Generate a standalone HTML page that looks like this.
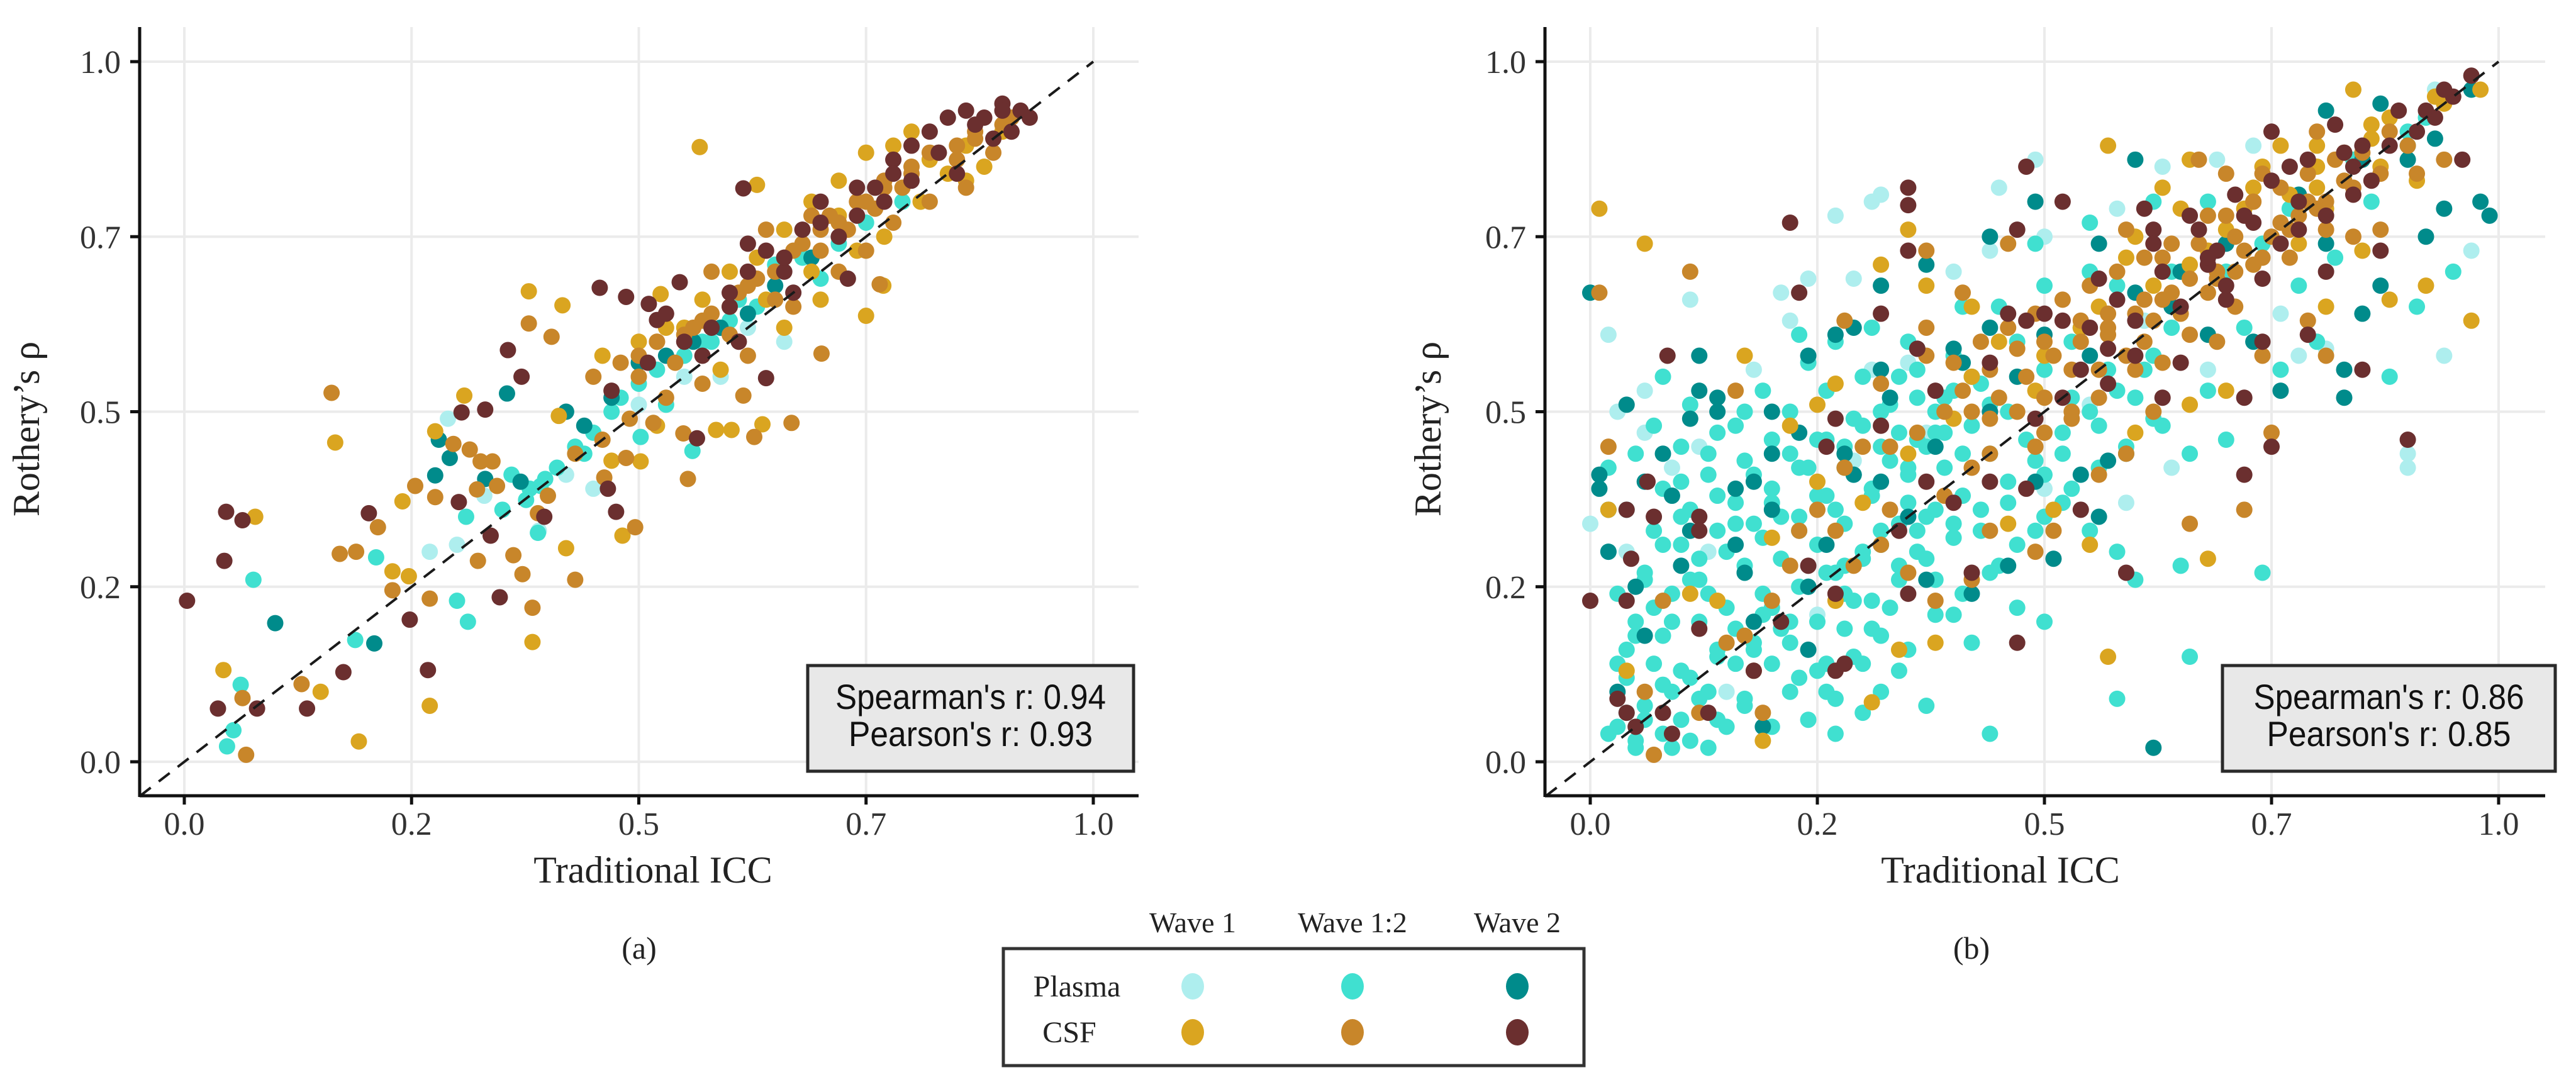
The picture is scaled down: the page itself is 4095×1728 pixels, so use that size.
<!DOCTYPE html>
<html><head><meta charset="utf-8"><style>
html,body{margin:0;padding:0;background:#fff;}
svg{display:block;}
</style></head><body>
<svg id="fig" xmlns="http://www.w3.org/2000/svg" width="4095" height="1728" viewBox="0 0 4095 1728">
<rect x="0" y="0" width="4095" height="1728" fill="#fff"/>
<g id="panelA"></g>
<g id="panelB"></g>
<text x="1016" y="1524" font-family="Liberation Serif, serif" font-size="50" text-anchor="middle" fill="#222">(a)</text>
<text x="3134" y="1524" font-family="Liberation Serif, serif" font-size="50" text-anchor="middle" fill="#222">(b)</text>
<g font-family="Liberation Serif, serif" fill="#222">
 <text x="1896" y="1482" font-size="46" text-anchor="middle">Wave 1</text>
 <text x="2150" y="1482" font-size="46" text-anchor="middle">Wave 1:2</text>
 <text x="2412" y="1482" font-size="46" text-anchor="middle">Wave 2</text>
 <rect x="1595" y="1508" width="923" height="186" fill="#fff" stroke="#333" stroke-width="5"/>
 <text x="1712" y="1584" font-size="48" text-anchor="middle">Plasma</text>
 <text x="1700" y="1657" font-size="48" text-anchor="middle">CSF</text>
 <ellipse cx="1896" cy="1568" rx="18" ry="21" fill="#aeeeee"/>
 <ellipse cx="2150" cy="1568" rx="18" ry="21" fill="#40e0d0"/>
 <ellipse cx="2412" cy="1568" rx="18" ry="21" fill="#008b8b"/>
 <ellipse cx="1896" cy="1641" rx="18" ry="21" fill="#daa520"/>
 <ellipse cx="2150" cy="1641" rx="18" ry="21" fill="#c8862a"/>
 <ellipse cx="2412" cy="1641" rx="18" ry="21" fill="#6b2f2f"/>
</g>
</svg>
<script>
const tickValues = [0, 0.25, 0.5, 0.75, 1.0];
const tickLabels = ["0.0", "0.2", "0.5", "0.7", "1.0"];
const statsA = ["Spearman's r: 0.94", "Pearson's r: 0.93"];
const statsB = ["Spearman's r: 0.86", "Pearson's r: 0.85"];
const seriesNames = ["plasma-wave1","plasma-wave12","plasma-wave2","csf-wave1","csf-wave12","csf-wave2"];
const seriesColors = ["#aeeeee","#40e0d0","#008b8b","#daa520","#c8862a","#6b2f2f"];

// ---- panel (a) ----
const aPw1X=[0.27,0.29,0.3,0.45,0.59,0.39,0.42,0.5,0.66,0.62,0.55,0.33];
const aPw1Y=[0.3,0.49,0.31,0.39,0.55,0.33,0.41,0.51,0.6,0.62,0.55,0.38];
const aPw12X=[0.076,0.062,0.054,0.047,0.188,0.211,0.3,0.312,0.389,0.376,0.392,0.397,0.502,0.559,0.47,0.45,0.48,0.52,0.55,0.58,0.6,0.63,0.65,0.68,0.7,0.72,0.35,0.36,0.41,0.43,0.5,0.53,0.57,0.61,0.75,0.79,0.38,0.31,0.44];
const aPw12Y=[0.26,0.11,0.045,0.022,0.174,0.292,0.23,0.2,0.327,0.374,0.394,0.404,0.464,0.444,0.5,0.47,0.52,0.56,0.58,0.6,0.63,0.65,0.71,0.72,0.69,0.74,0.36,0.41,0.42,0.45,0.54,0.51,0.6,0.66,0.77,0.8,0.39,0.35,0.44];
const aPw2X=[0.1,0.209,0.292,0.276,0.331,0.355,0.28,0.47,0.42,0.5,0.56,0.62,0.65,0.69,0.37,0.44,0.53,0.59];
const aPw2Y=[0.198,0.169,0.434,0.409,0.404,0.526,0.46,0.52,0.5,0.57,0.6,0.64,0.68,0.72,0.4,0.48,0.58,0.62];
const aCw1X=[0.078,0.043,0.192,0.166,0.229,0.247,0.24,0.276,0.308,0.379,0.416,0.524,0.567,0.63,0.383,0.42,0.412,0.482,0.502,0.585,0.602,0.636,0.75,0.769,0.27,0.15,0.46,0.5,0.53,0.57,0.6,0.63,0.66,0.69,0.72,0.75,0.78,0.8,0.82,0.84,0.86,0.88,0.72,0.7,0.74,0.77,0.81,0.86,0.9,0.59,0.64,0.55,0.47,0.52,0.66,0.69];
const aCw1Y=[0.35,0.131,0.029,0.456,0.272,0.265,0.372,0.472,0.523,0.672,0.652,0.668,0.878,0.824,0.171,0.305,0.494,0.323,0.429,0.474,0.474,0.482,0.637,0.68,0.08,0.1,0.58,0.6,0.62,0.66,0.7,0.72,0.76,0.8,0.83,0.87,0.88,0.9,0.86,0.84,0.83,0.85,0.78,0.66,0.73,0.75,0.8,0.88,0.9,0.56,0.66,0.62,0.43,0.48,0.62,0.7];
const aCw12X=[0.064,0.068,0.129,0.162,0.171,0.189,0.213,0.229,0.27,0.254,0.276,0.296,0.314,0.326,0.339,0.322,0.344,0.379,0.404,0.323,0.362,0.372,0.383,0.389,0.43,0.496,0.462,0.486,0.516,0.554,0.549,0.627,0.668,0.615,0.701,0.765,0.45,0.48,0.5,0.52,0.54,0.56,0.58,0.6,0.61,0.63,0.65,0.66,0.68,0.7,0.71,0.73,0.74,0.76,0.77,0.79,0.8,0.82,0.83,0.85,0.86,0.87,0.89,0.62,0.67,0.72,0.75,0.78,0.57,0.53,0.49,0.46,0.43,0.4,0.58,0.64,0.69];
const aCw12Y=[0.091,0.01,0.111,0.527,0.297,0.3,0.335,0.245,0.233,0.394,0.378,0.454,0.446,0.429,0.429,0.389,0.394,0.626,0.607,0.287,0.295,0.268,0.22,0.355,0.26,0.335,0.406,0.434,0.484,0.404,0.469,0.464,0.484,0.523,0.583,0.682,0.55,0.57,0.58,0.6,0.57,0.62,0.64,0.61,0.67,0.69,0.66,0.72,0.74,0.73,0.78,0.76,0.8,0.79,0.83,0.82,0.85,0.8,0.87,0.86,0.82,0.89,0.87,0.58,0.65,0.7,0.73,0.77,0.54,0.52,0.49,0.46,0.44,0.38,0.7,0.76,0.78];
const aCw12X2=[0.5,0.55,0.6,0.65,0.7,0.75,0.8,0.85,0.9,0.52,0.57,0.62,0.67,0.72,0.77,0.82,0.87,0.91];
const aCw12Y2=[0.55,0.61,0.65,0.7,0.76,0.8,0.84,0.88,0.91,0.6,0.63,0.68,0.73,0.77,0.82,0.87,0.9,0.92];
const aCw2X=[0.003,0.046,0.064,0.044,0.037,0.08,0.135,0.175,0.203,0.248,0.268,0.302,0.305,0.331,0.356,0.371,0.457,0.486,0.511,0.52,0.545,0.615,0.347,0.337,0.396,0.466,0.475,0.564,0.64,0.47,0.51,0.55,0.58,0.6,0.62,0.64,0.66,0.68,0.7,0.72,0.74,0.76,0.78,0.8,0.82,0.84,0.86,0.88,0.9,0.91,0.92,0.89,0.85,0.8,0.77,0.73,0.61,0.57,0.53,0.62,0.67];
const aCw2Y=[0.23,0.357,0.345,0.287,0.076,0.076,0.076,0.128,0.355,0.203,0.131,0.371,0.499,0.503,0.588,0.55,0.677,0.664,0.654,0.631,0.685,0.819,0.235,0.323,0.35,0.39,0.357,0.462,0.548,0.53,0.57,0.6,0.62,0.65,0.7,0.73,0.7,0.76,0.8,0.75,0.78,0.82,0.86,0.88,0.9,0.92,0.93,0.92,0.94,0.9,0.93,0.89,0.84,0.83,0.8,0.69,0.6,0.58,0.64,0.74,0.67];
const aCw2X2=[0.6,0.66,0.7,0.74,0.78,0.83,0.87,0.9,0.93];
const aCw2Y2=[0.67,0.72,0.77,0.82,0.84,0.87,0.91,0.93,0.92];

// ---- panel (b) ----
const bPw1X=[0.49,0.45,0.32,0.31,0.27,0.29,0.24,0.21,0.11,0.02,0.22,0.5,0.58,0.63,0.69,0.93,0.97,0.94,0.9,0.9,0.81,0.78,0.76,0.68,0.64,0.59,0.5,0.06,0.03,0.06,0.0,0.15,0.09,0.12,0.18,0.25,0.31,0.35,0.4,0.44,0.55,0.61,0.73,0.04,0.13,0.29,0.37];
const bPw1Y=[0.86,0.82,0.81,0.8,0.78,0.69,0.69,0.67,0.66,0.61,0.63,0.75,0.79,0.85,0.86,0.96,0.73,0.58,0.42,0.44,0.59,0.58,0.64,0.56,0.42,0.37,0.39,0.53,0.5,0.47,0.34,0.1,0.42,0.45,0.56,0.21,0.56,0.57,0.7,0.73,0.51,0.63,0.88,0.3,0.3,0.43,0.47];
const bPw12X=[0.03,0.05,0.06,0.04,0.07,0.09,0.1,0.11,0.08,0.05,0.03,0.06,0.09,0.12,0.14,0.13,0.15,0.17,0.16,0.18,0.15,0.12,0.1,0.07,0.04,0.02,0.05,0.08,0.11,0.14,0.17,0.19,0.21,0.2,0.22,0.24,0.27,0.26,0.25,0.23,0.21,0.18,0.16,0.13,0.1,0.07,0.14,0.17,0.2,0.23,0.25,0.27,0.29,0.31,0.3,0.32,0.34,0.33,0.3,0.28,0.26,0.23,0.2,0.17,0.22,0.25,0.28,0.31,0.34,0.36,0.38,0.4,0.42,0.37,0.35,0.32,0.29,0.26,0.3,0.33,0.36,0.39,0.41,0.43,0.45,0.47,0.5,0.44,0.42,0.39,0.36,0.4,0.43,0.46,0.48,0.5,0.52,0.55,0.58,0.6,0.65,0.56,0.53,0.5,0.47,0.45,0.5,0.53,0.57,0.6,0.63,0.66,0.7,0.68,0.62,0.58,0.55,0.64,0.72,0.76,0.8,0.78,0.74,0.82,0.86,0.9,0.95,0.91,0.88,0.74,0.58,0.66,0.3,0.27,0.44,0.37,0.13,0.09,0.35,0.31,0.27,0.24,0.41,0.49,0.55,0.62,0.68,0.04,0.02,0.19,0.23,0.11,0.08,0.34,0.28,0.32,0.35,0.38,0.46,0.49,0.52,0.64,0.7,0.77,0.84,0.92];
const bPw12Y=[0.05,0.03,0.08,0.12,0.14,0.1,0.06,0.12,0.18,0.2,0.24,0.27,0.24,0.2,0.16,0.1,0.05,0.09,0.14,0.17,0.22,0.26,0.31,0.33,0.36,0.42,0.44,0.39,0.36,0.33,0.28,0.24,0.19,0.14,0.1,0.06,0.09,0.14,0.2,0.25,0.29,0.34,0.37,0.41,0.45,0.48,0.47,0.43,0.39,0.35,0.31,0.27,0.23,0.19,0.14,0.1,0.13,0.22,0.3,0.34,0.38,0.42,0.46,0.5,0.5,0.46,0.42,0.38,0.34,0.3,0.26,0.21,0.17,0.35,0.41,0.45,0.49,0.53,0.55,0.51,0.46,0.42,0.38,0.33,0.28,0.22,0.2,0.44,0.48,0.52,0.56,0.58,0.54,0.5,0.46,0.41,0.37,0.33,0.3,0.26,0.28,0.48,0.52,0.56,0.6,0.65,0.68,0.6,0.56,0.52,0.48,0.44,0.46,0.53,0.58,0.68,0.7,0.7,0.62,0.56,0.6,0.68,0.74,0.72,0.8,0.9,0.7,0.65,0.55,0.27,0.09,0.15,0.07,0.04,0.04,0.08,0.02,0.02,0.6,0.62,0.6,0.57,0.65,0.74,0.77,0.8,0.8,0.16,0.3,0.53,0.61,0.51,0.55,0.55,0.28,0.33,0.37,0.47,0.37,0.33,0.44,0.62,0.7,0.79,0.86,0.92];
const bPw12X2=[0.02,0.04,0.06,0.08,0.1,0.12,0.14,0.16,0.18,0.2,0.22,0.24,0.26,0.28,0.3,0.32,0.34,0.36,0.38,0.4,0.03,0.05,0.07,0.09,0.11,0.13,0.15,0.17,0.19,0.21,0.23,0.25,0.27,0.29,0.31,0.33,0.35,0.37,0.39,0.41,0.06,0.08,0.1,0.12,0.14,0.16,0.18,0.2,0.22,0.24,0.26,0.28,0.3,0.32,0.34,0.36,0.38,0.4,0.42,0.44,0.1,0.13,0.16,0.19,0.22,0.25,0.28,0.31,0.34,0.37,0.4,0.43,0.46,0.49,0.52,0.55,0.58,0.61,0.05,0.08,0.11,0.14,0.17,0.2,0.23,0.26,0.29,0.32,0.35,0.38,0.41,0.44,0.47,0.5,0.53,0.56,0.59,0.62];
const bPw12Y2=[0.04,0.07,0.06,0.11,0.13,0.09,0.15,0.19,0.16,0.22,0.2,0.25,0.27,0.24,0.29,0.31,0.28,0.33,0.36,0.34,0.14,0.18,0.22,0.2,0.26,0.24,0.3,0.27,0.32,0.35,0.33,0.38,0.36,0.41,0.39,0.43,0.42,0.45,0.47,0.44,0.26,0.31,0.35,0.29,0.38,0.34,0.41,0.37,0.44,0.42,0.46,0.45,0.48,0.5,0.47,0.52,0.5,0.53,0.55,0.51,0.4,0.44,0.48,0.21,0.17,0.13,0.19,0.23,0.26,0.29,0.32,0.36,0.4,0.43,0.47,0.5,0.53,0.56,0.02,0.04,0.03,0.06,0.08,0.05,0.12,0.1,0.15,0.18,0.16,0.21,0.24,0.27,0.31,0.35,0.39,0.42,0.45,0.49];
const bPw2X=[0.6,0.81,0.87,0.97,0.99,0.98,0.94,0.92,0.87,0.85,0.83,0.83,0.76,0.81,0.9,0.93,0.62,0.49,0.44,0.56,0.32,0.37,0.29,0.27,0.24,0.12,0.12,0.04,0.01,0.01,0.0,0.11,0.14,0.2,0.2,0.18,0.16,0.09,0.06,0.02,0.1,0.16,0.18,0.24,0.06,0.03,0.19,0.24,0.28,0.32,0.33,0.36,0.4,0.44,0.46,0.51,0.54,0.57,0.49,0.59,0.54,0.64,0.68,0.73,0.56,0.42,0.37];
const bPw2Y=[0.86,0.93,0.94,0.96,0.78,0.8,0.79,0.75,0.68,0.64,0.56,0.52,0.53,0.74,0.86,0.89,0.02,0.8,0.75,0.74,0.68,0.71,0.62,0.61,0.58,0.58,0.53,0.51,0.41,0.39,0.67,0.49,0.5,0.5,0.44,0.4,0.39,0.38,0.4,0.3,0.28,0.31,0.2,0.16,0.18,0.1,0.05,0.25,0.44,0.4,0.52,0.59,0.59,0.62,0.28,0.29,0.41,0.43,0.4,0.44,0.62,0.65,0.61,0.6,0.35,0.24,0.26];
const bPw2X2=[0.02,0.05,0.08,0.11,0.14,0.17,0.2,0.23,0.26,0.29,0.32,0.35,0.38,0.41,0.44,0.47,0.5,0.55,0.6,0.65,0.7,0.78,0.85,0.9];
const bPw2Y2=[0.36,0.25,0.44,0.33,0.52,0.27,0.36,0.47,0.31,0.41,0.56,0.35,0.45,0.57,0.5,0.55,0.61,0.58,0.67,0.7,0.74,0.81,0.86,0.88];
const bCw1X=[0.01,0.06,0.57,0.84,0.98,0.97,0.92,0.88,0.81,0.85,0.68,0.57,0.38,0.31,0.19,0.04,0.02,0.17,0.35,0.32,0.37,0.42,0.25,0.22,0.27,0.34,0.27,0.46,0.51,0.55,0.66,0.7,0.6,0.49,0.42,0.66,0.76,0.8,0.87,0.91,0.81,0.73,0.7,0.63,0.8,0.94,0.86,0.78,0.66,0.59,0.54,0.35,0.3,0.25,0.2,0.14,0.11,0.4];
const bCw1Y=[0.79,0.74,0.88,0.96,0.96,0.63,0.68,0.66,0.65,0.73,0.29,0.15,0.17,0.085,0.03,0.13,0.36,0.58,0.76,0.71,0.68,0.65,0.51,0.48,0.54,0.16,0.23,0.34,0.36,0.31,0.51,0.53,0.47,0.53,0.55,0.86,0.88,0.88,0.85,0.83,0.79,0.82,0.76,0.82,0.85,0.94,0.91,0.74,0.71,0.72,0.62,0.44,0.37,0.4,0.32,0.23,0.24,0.49];
const bCw1X2=[0.45,0.5,0.56,0.62,0.68,0.72,0.77,0.83,0.88,0.93,0.6,0.65,0.74,0.8,0.86];
const bCw1Y2=[0.6,0.58,0.65,0.68,0.73,0.79,0.81,0.87,0.92,0.95,0.75,0.79,0.85,0.82,0.89];
const bCw12X=[0.11,0.01,0.02,0.16,0.28,0.37,0.41,0.46,0.37,0.59,0.67,0.68,0.71,0.73,0.76,0.79,0.83,0.81,0.77,0.73,0.69,0.64,0.61,0.57,0.54,0.5,0.47,0.44,0.41,0.39,0.36,0.33,0.3,0.28,0.25,0.23,0.22,0.2,0.17,0.15,0.12,0.06,0.07,0.19,0.18,0.08,0.32,0.35,0.38,0.42,0.44,0.49,0.51,0.56,0.59,0.62,0.66,0.72,0.75,0.74,0.81,0.79,0.66,0.63,0.6,0.56,0.53,0.49,0.44,0.42,0.39,0.33,0.29,0.27,0.69,0.71,0.67,0.63,0.84,0.87,0.91,0.94,0.74,0.7,0.8,0.53,0.5,0.47,0.57,0.61,0.44,0.37,0.32];
const bCw12Y=[0.7,0.67,0.45,0.53,0.63,0.62,0.67,0.74,0.73,0.76,0.86,0.78,0.75,0.8,0.77,0.8,0.83,0.76,0.72,0.71,0.69,0.67,0.66,0.64,0.63,0.6,0.59,0.56,0.53,0.5,0.47,0.45,0.45,0.42,0.36,0.33,0.28,0.23,0.18,0.17,0.07,0.1,0.01,0.07,0.13,0.23,0.31,0.27,0.23,0.26,0.33,0.3,0.33,0.41,0.44,0.5,0.34,0.36,0.47,0.58,0.58,0.63,0.61,0.57,0.56,0.52,0.49,0.45,0.44,0.42,0.38,0.36,0.28,0.33,0.6,0.65,0.74,0.72,0.75,0.76,0.84,0.86,0.84,0.84,0.9,0.56,0.52,0.5,0.62,0.6,0.49,0.58,0.54];
const bCw12X2=[0.4,0.43,0.46,0.49,0.52,0.55,0.58,0.61,0.64,0.67,0.7,0.73,0.76,0.79,0.82,0.85,0.88,0.42,0.45,0.48,0.51,0.54,0.57,0.6,0.63,0.66,0.69,0.72,0.75,0.78,0.81,0.84,0.87,0.9,0.5,0.53,0.56,0.59,0.62,0.65,0.68,0.71,0.74,0.77,0.8];
const bCw12Y2=[0.57,0.6,0.62,0.64,0.66,0.68,0.7,0.72,0.74,0.76,0.78,0.8,0.82,0.84,0.86,0.87,0.9,0.5,0.52,0.55,0.58,0.6,0.61,0.64,0.66,0.69,0.7,0.73,0.75,0.78,0.8,0.82,0.84,0.88,0.47,0.5,0.56,0.58,0.63,0.64,0.67,0.7,0.72,0.76,0.79];
const bCw2X=[0.22,0.35,0.35,0.48,0.52,0.47,0.35,0.23,0.085,0.063,0.04,0.07,0.0,0.04,0.045,0.12,0.12,0.12,0.03,0.04,0.08,0.09,0.05,0.13,0.18,0.21,0.24,0.27,0.28,0.27,0.26,0.27,0.32,0.34,0.37,0.35,0.4,0.42,0.47,0.48,0.44,0.32,0.36,0.38,0.44,0.46,0.48,0.5,0.52,0.54,0.57,0.52,0.49,0.54,0.59,0.62,0.61,0.66,0.68,0.65,0.63,0.69,0.72,0.72,0.75,0.74,0.79,0.81,0.85,0.87,0.9,0.96,0.75,0.82,0.89,0.92,0.94,0.97,0.84,0.77,0.72,0.74,0.78,0.85,0.7,0.6,0.57,0.56];
const bCw2Y=[0.77,0.82,0.795,0.85,0.8,0.76,0.73,0.67,0.58,0.4,0.36,0.35,0.23,0.23,0.29,0.35,0.33,0.19,0.09,0.07,0.07,0.04,0.05,0.07,0.13,0.2,0.28,0.13,0.14,0.24,0.45,0.49,0.48,0.33,0.4,0.24,0.37,0.27,0.17,0.39,0.4,0.64,0.59,0.53,0.57,0.64,0.63,0.64,0.63,0.56,0.54,0.52,0.49,0.36,0.27,0.76,0.79,0.78,0.71,0.57,0.52,0.73,0.52,0.41,0.45,0.6,0.61,0.7,0.56,0.73,0.46,0.86,0.9,0.91,0.93,0.93,0.96,0.98,0.81,0.85,0.78,0.69,0.76,0.88,0.66,0.63,0.59,0.69];
const bCw2X2=[0.55,0.58,0.6,0.63,0.65,0.68,0.7,0.73,0.76,0.78,0.81,0.84,0.86,0.88,0.91,0.93,0.95,0.62,0.67,0.71,0.75,0.79,0.83];
const bCw2Y2=[0.62,0.66,0.58,0.7,0.65,0.72,0.68,0.77,0.74,0.8,0.78,0.85,0.83,0.88,0.9,0.92,0.95,0.74,0.76,0.81,0.83,0.86,0.87];

const panelAX=[aPw1X,aPw12X,aPw2X,aCw1X,aCw12X.concat(aCw12X2),aCw2X.concat(aCw2X2)];
const panelAY=[aPw1Y,aPw12Y,aPw2Y,aCw1Y,aCw12Y.concat(aCw12Y2),aCw2Y.concat(aCw2Y2)];
const panelBX=[bPw1X,bPw12X.concat(bPw12X2),bPw2X.concat(bPw2X2),bCw1X.concat(bCw1X2),bCw12X.concat(bCw12X2),bCw2X.concat(bCw2X2)];
const panelBY=[bPw1Y,bPw12Y.concat(bPw12Y2),bPw2Y.concat(bPw2Y2),bCw1Y.concat(bCw1Y2),bCw12Y.concat(bCw12Y2),bCw2Y.concat(bCw2Y2)];

const NS="http://www.w3.org/2000/svg";
function mk(tag, attrs, parent){
  const e=document.createElementNS(NS,tag);
  for(const k in attrs) e.setAttribute(k,attrs[k]);
  parent.appendChild(e);
  return e;
}

function drawPanel(g, cfg, xs, ys, stats, tag){
  const X=v=>cfg.x0+cfg.ux*v;
  const Y=v=>cfg.y0-cfg.uy*v;
  const lo=-0.049;
  tickValues.forEach((t,i)=>{
    const gx=mk('line',{x1:X(t),x2:X(t),y1:cfg.top,y2:cfg.axY,stroke:'#ebebeb','stroke-width':4},g);
    
    
    const gy=mk('line',{x1:cfg.axX,x2:cfg.right,y1:Y(t),y2:Y(t),stroke:'#ebebeb','stroke-width':4},g);
    
    
  });
  xs.forEach((arr,s)=>{
    const sg=mk('g',{fill:seriesColors[s]},g);
    
    
    arr.forEach((v,i)=>{
      const c=mk('circle',{cx:X(v),cy:Y(ys[s][i]),r:13},sg);
      
      
    });
  });
  const d=mk('line',{x1:X(lo),y1:Y(lo),x2:X(1),y2:Y(1),stroke:'#1a1a1a','stroke-width':4,'stroke-dasharray':'22 16'},g);
  
  
  const ax=mk('line',{x1:cfg.axX,x2:cfg.right,y1:cfg.axY,y2:cfg.axY,stroke:'#111','stroke-width':5},g);
  
  
  const ay=mk('line',{x1:cfg.axX,x2:cfg.axX,y1:cfg.top,y2:cfg.axY+2,stroke:'#111','stroke-width':5},g);
  
  
  tickValues.forEach((t,i)=>{
    const tx=mk('line',{x1:X(t),x2:X(t),y1:cfg.axY,y2:cfg.axY+14,stroke:'#111','stroke-width':5},g);
    
    
    const ty=mk('line',{x1:cfg.axX-15,x2:cfg.axX,y1:Y(t),y2:Y(t),stroke:'#111','stroke-width':5},g);
    
    
    const lx=mk('text',{x:X(t),y:cfg.axY+62,'font-family':'Liberation Serif, serif','font-size':52,'text-anchor':'middle',fill:'#333'},g);
    lx.textContent=tickLabels[i];
    
    
    const ly=mk('text',{x:cfg.axX-30,y:Y(t)+18,'font-family':'Liberation Serif, serif','font-size':52,'text-anchor':'end',fill:'#333'},g);
    ly.textContent=tickLabels[i];
    
    
  });
  const xt=mk('text',{x:cfg.xTitleX,y:1403,'font-family':'Liberation Serif, serif','font-size':60,'text-anchor':'middle',fill:'#222'},g);
  xt.textContent='Traditional ICC';
  
  
  const yt=mk('text',{x:0,y:0,transform:'translate('+(cfg.yTitleX)+',682) rotate(-90)','font-family':'Liberation Serif, serif','font-size':60,'text-anchor':'middle',fill:'#222'},g);
  yt.textContent='Rothery\u2019s \u03c1';
  
  
  const bx=mk('rect',{x:cfg.boxL,y:1058,width:cfg.boxR-cfg.boxL,height:168,fill:'#e8e8e8',stroke:'#2a2a2a','stroke-width':5},g);
  
  
  const cx=(cfg.boxL+cfg.boxR)/2;
  const s1=mk('text',{x:cx,y:1127,'font-family':'Liberation Sans, sans-serif','font-size':56,'text-anchor':'middle',fill:'#111',textLength:430,lengthAdjust:'spacingAndGlyphs'},g);
  s1.textContent=stats[0];
  
  
  const s2=mk('text',{x:cx,y:1186,'font-family':'Liberation Sans, sans-serif','font-size':56,'text-anchor':'middle',fill:'#111',textLength:388,lengthAdjust:'spacingAndGlyphs'},g);
  s2.textContent=stats[1];
  
  
}

drawPanel(document.getElementById('panelA'),
  {x0:293,ux:1445,y0:1211,uy:1113,axX:222,axY:1265,top:43,right:1810,xTitleX:1038,yTitleX:62,boxL:1284,boxR:1802},
  panelAX, panelAY, statsA, 'panel-a');
drawPanel(document.getElementById('panelB'),
  {x0:2528,ux:1444,y0:1211,uy:1113,axX:2456,axY:1265,top:43,right:4046,xTitleX:3180,yTitleX:2290,boxL:3533,boxR:4062},
  panelBX, panelBY, statsB, 'panel-b');
</script>
</body></html>
